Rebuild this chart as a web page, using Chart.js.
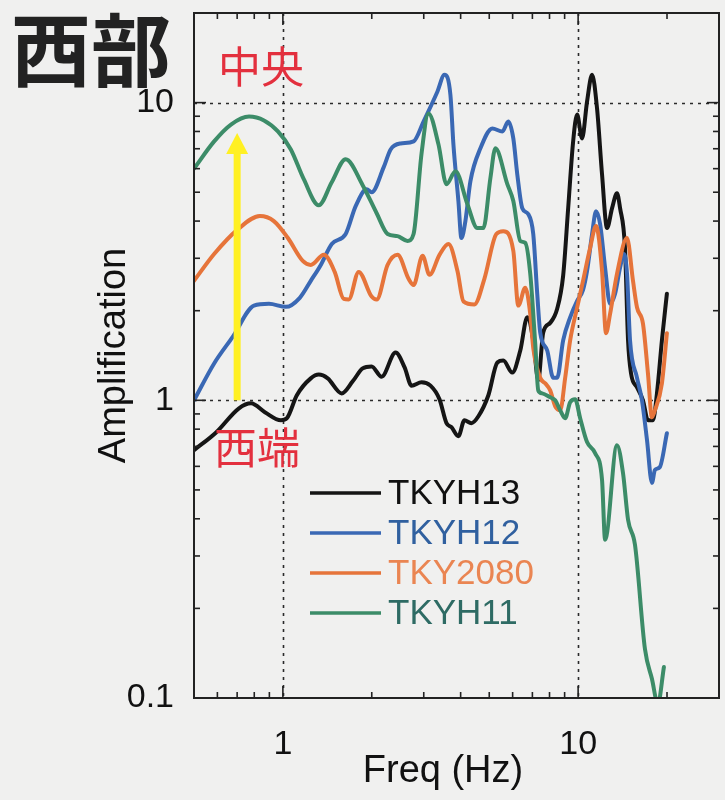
<!DOCTYPE html>
<html>
<head>
<meta charset="utf-8">
<script src="https://cdn.jsdelivr.net/npm/chart.js@4.4.1/dist/chart.umd.min.js"></script>
<style>
  html, body { margin: 0; padding: 0; background: #f0f0ef; }
  #wrap { width: 725px; height: 800px; }
</style>
</head>
<body>
<div id="wrap"><canvas id="c" width="725" height="800"></canvas></div>
<script>
// Amplification spectra, western sites (frequency in Hz, amplification ratio)
const stationNames = ['TKYH13', 'TKYH12', 'TKY2080', 'TKYH11'];

const h13Freq = [0.5,0.594,0.71,0.78,0.869,0.985,1.032,1.115,1.243,1.323,1.419,1.582,1.724,1.863,1.998,2.16,2.408,2.584,2.728,2.949,3.162,3.392,3.582,3.724,3.931,4.12,4.349,4.594,4.966,5.326,5.58,5.984,6.369,6.725,7.047,7.327,7.617,8.042,8.493,8.897,9.253,9.619,9.922,10.31,10.72,11.15,11.59,12.05,12.53,13.03,13.54,13.87,14.41,14.76,15.11,15.83,16.58,17.24,17.92,18.49,19.22,19.98];
const h13Amp  = [0.68,0.78,0.94,0.977,0.912,0.857,0.871,1.04,1.185,1.22,1.185,1.055,1.158,1.28,1.30,1.20,1.447,1.29,1.12,1.15,1.12,1.008,0.838,0.812,0.758,0.857,0.838,0.884,1.04,1.34,1.36,1.24,1.47,1.90,1.59,1.17,1.69,1.82,2.03,2.62,4.42,7.41,9.12,7.58,10.08,12.4,9.55,5.74,3.79,4.42,4.96,4.42,3.25,1.59,1.23,1.105,1.0,0.857,0.857,1.055,1.59,2.28];

const h12Freq = [0.5,0.585,0.678,0.798,0.897,1.024,1.141,1.243,1.344,1.464,1.632,1.764,1.922,1.998,2.194,2.317,2.504,2.771,2.995,3.339,3.526,3.694,3.781,3.931,4.024,4.151,4.316,4.667,5.123,5.537,5.801,6.032,6.222,6.469,6.778,7.047,7.269,7.44,7.858,8.233,8.493,8.897,9.397,9.922,10.39,10.72,11.15,11.5,11.87,12.34,12.83,13.34,13.87,14.3,14.64,14.99,15.83,16.45,17.11,17.78,18.2,18.92,19.98];
const h12Amp  = [1.0,1.33,1.64,2.08,2.11,2.06,2.21,2.52,2.85,3.35,3.62,4.49,5.12,5.0,6.06,6.96,7.29,7.41,8.64,10.9,12.4,10.6,7.24,4.67,3.51,4.0,5.44,7.02,8.19,8.0,8.64,7.58,5.74,4.42,4.22,3.62,2.28,1.69,1.47,1.19,1.19,1.59,1.90,2.16,2.35,2.72,3.62,4.32,3.91,2.79,2.11,2.28,2.79,3.10,2.66,1.59,1.19,1.0,0.735,0.528,0.583,0.597,0.775];

const k2080Freq = [0.5,0.585,0.699,0.836,0.932,1.04,1.168,1.243,1.376,1.498,1.607,1.671,1.806,1.998,2.078,2.263,2.446,2.665,2.771,2.972,3.138,3.392,3.638,3.902,4.088,4.453,4.814,5.284,5.58,6.032,6.271,6.621,6.884,7.047,7.44,7.736,8.042,8.362,8.694,9.04,9.397,9.922,10.39,10.98,11.5,12.05,12.43,12.83,13.54,14.64,15.34,15.83,16.58,17.24,17.78,18.2,19.22,19.98];
const k2080Amp  = [2.52,3.10,3.73,4.16,4.0,3.51,2.94,2.85,3.08,2.70,2.19,2.18,2.70,2.23,2.18,2.85,3.08,2.56,2.44,3.06,2.64,3.08,3.35,2.72,2.15,2.10,2.56,3.62,3.70,3.18,2.08,2.39,1.95,1.50,1.19,1.14,1.08,0.955,0.926,1.19,1.59,2.05,2.52,3.25,3.85,2.72,1.68,1.95,2.66,3.51,2.52,2.05,1.81,1.23,0.877,0.926,1.14,1.68];

const h11Freq = [0.5,0.585,0.667,0.768,0.863,0.962,1.064,1.177,1.323,1.464,1.632,1.863,2.078,2.263,2.446,2.644,2.771,2.949,3.113,3.365,3.582,3.842,4.217,4.558,4.776,5.044,5.244,5.757,6.032,6.369,6.621,6.884,7.157,7.327,7.558,8.042,8.362,8.694,9.04,9.397,9.77,10.16,10.72,11.41,12.05,12.34,13.54,14.19,14.76,15.58,16.84,17.78,18.63,19.52];
const h11Amp  = [6.0,7.41,8.44,8.98,8.71,8.0,6.96,5.53,4.52,5.40,6.45,5.28,4.25,3.62,3.56,3.43,3.62,6.75,9.2,7.24,5.32,5.88,4.56,3.79,3.79,5.57,7.02,5.32,4.67,3.43,3.38,2.66,1.55,1.08,1.055,1.023,1.0,0.926,0.871,0.985,1.008,0.871,0.724,0.665,0.54,0.34,0.707,0.57,0.397,0.327,0.146,0.116,0.0955,0.127];

// Axis ticks and labels
const xLabelValues = [1, 10];
const xLabelText   = ['1', '10'];
const yLabelValues = [0.1, 1, 10];
const yLabelText   = ['0.1', '1', '10'];
const xMajorTicks = [1, 10];
const xMinorTicks = [0.6, 0.7, 0.8, 0.9, 2, 3, 4, 5, 6, 7, 8, 9, 20];
const yMajorTicks = [1, 10];
const yMinorTicks = [0.2, 0.3, 0.4, 0.5, 0.6, 0.7, 0.8, 0.9, 2, 3, 4, 5, 6, 7, 8, 9];
const gridX = [1, 10];
const gridY = [1, 10];

// Yellow arrow: west end -> centre, at 0.7 Hz
const arrowFreq = [0.7];
const arrowAmp  = [1.0, 7.9];

const lineColors = ['#151515', '#3a68b4', '#e6743a', '#3c8c68'];
const textColors = ['#111111', '#30609f', '#ea8552', '#2e6b64'];
const FONT = '"Liberation Sans", Arial, Helvetica, sans-serif';
const CJK = '"Noto Sans CJK JP", "Noto Sans CJK SC", sans-serif';

const pts = (f, a) => f.map((v, i) => ({ x: v, y: a[i] }));
const labelFor = (vals, txt) => (v) => {
  const i = vals.findIndex(t => Math.abs(t - v) / t < 1e-6);
  return i >= 0 ? txt[i] : '';
};
// fixed axis box sizes, no extra label overhang padding
const fixBox = (w, h) => (s) => {
  if (w !== null) s.width = w;
  if (h !== null) s.height = h;
  s.paddingLeft = 0; s.paddingRight = 0; s.paddingTop = 0; s.paddingBottom = 0;
};

const decor = {
  id: 'decor',
  beforeDraw(chart) {
    const ctx = chart.ctx;
    ctx.save();
    ctx.fillStyle = '#f0f0ef';
    ctx.fillRect(0, 0, chart.width, chart.height);
    ctx.restore();
  },
  beforeDatasetsDraw(chart) {
    const { ctx, chartArea: a, scales: { x, y } } = chart;
    ctx.save();
    ctx.strokeStyle = '#2a2a2a';
    ctx.lineWidth = 1.6;
    ctx.setLineDash([3, 5]);
    gridX.forEach(v => {
      const p = Math.round(x.getPixelForValue(v)) + 0.5;
      ctx.beginPath(); ctx.moveTo(p, a.top); ctx.lineTo(p, a.bottom); ctx.stroke();
    });
    gridY.forEach(v => {
      const p = Math.round(y.getPixelForValue(v)) + 0.5;
      ctx.beginPath(); ctx.moveTo(a.left, p); ctx.lineTo(a.right, p); ctx.stroke();
    });
    ctx.restore();
  },
  afterDatasetsDraw(chart) {
    const { ctx, chartArea: a, scales: { x, y } } = chart;
    ctx.save();

    // frame
    ctx.strokeStyle = '#222';
    ctx.lineWidth = 2;
    ctx.strokeRect(a.left, a.top, a.right - a.left, a.bottom - a.top);

    // inward tick marks on all four sides
    ctx.lineWidth = 1.6;
    const tickX = (v, len) => {
      const p = x.getPixelForValue(v);
      ctx.beginPath(); ctx.moveTo(p, a.bottom); ctx.lineTo(p, a.bottom - len); ctx.stroke();
      ctx.beginPath(); ctx.moveTo(p, a.top); ctx.lineTo(p, a.top + len); ctx.stroke();
    };
    const tickY = (v, len) => {
      const p = y.getPixelForValue(v);
      ctx.beginPath(); ctx.moveTo(a.left, p); ctx.lineTo(a.left + len, p); ctx.stroke();
      ctx.beginPath(); ctx.moveTo(a.right, p); ctx.lineTo(a.right - len, p); ctx.stroke();
    };
    xMinorTicks.forEach(v => tickX(v, 6));
    xMajorTicks.forEach(v => tickX(v, 12));
    yMinorTicks.forEach(v => tickY(v, 6));
    yMajorTicks.forEach(v => tickY(v, 12));

    // yellow arrow
    const ax = x.getPixelForValue(arrowFreq[0]);
    const ay0 = y.getPixelForValue(arrowAmp[0]);
    const ay1 = y.getPixelForValue(arrowAmp[1]);
    const headLen = 21, headHalf = 11;
    ctx.fillStyle = '#fff023';
    ctx.fillRect(ax - 3.5, ay1 + headLen - 1, 7, ay0 - (ay1 + headLen - 1));
    ctx.beginPath();
    ctx.moveTo(ax, ay1);
    ctx.lineTo(ax + headHalf, ay1 + headLen);
    ctx.lineTo(ax - headHalf, ay1 + headLen);
    ctx.closePath();
    ctx.fill();

    // red site labels
    ctx.fillStyle = '#e3303e';
    ctx.textAlign = 'center';
    ctx.textBaseline = 'middle';
    ctx.font = '43px ' + CJK;
    ctx.fillText('中央', 261, 67);
    ctx.fillText('西端', 257, 448);

    // legend
    ctx.font = '35px ' + FONT;
    ctx.textAlign = 'left';
    chart.data.datasets.forEach((ds, i) => {
      const ly = 493 + i * 40;
      ctx.strokeStyle = ds.borderColor;
      ctx.lineWidth = 3.5;
      ctx.beginPath(); ctx.moveTo(310, ly); ctx.lineTo(381, ly); ctx.stroke();
      ctx.fillStyle = textColors[i];
      ctx.fillText(ds.label, 388, ly + 1);
    });

    // x-axis title
    ctx.fillStyle = '#111';
    ctx.font = '38px ' + FONT;
    ctx.textAlign = 'center';
    ctx.fillText('Freq (Hz)', 443, 772);

    // region heading
    ctx.fillStyle = '#222';
    ctx.font = 'bold 80px ' + CJK;
    ctx.textAlign = 'left';
    ctx.fillText('西部', 11, 50);
    ctx.restore();
  }
};

const series = [
  pts(h13Freq, h13Amp),
  pts(h12Freq, h12Amp),
  pts(k2080Freq, k2080Amp),
  pts(h11Freq, h11Amp)
];

new Chart(document.getElementById('c'), {
  type: 'line',
  data: {
    datasets: series.map((d, i) => ({
      label: stationNames[i],
      data: d,
      borderColor: lineColors[i],
      backgroundColor: lineColors[i],
      order: 3 - i
    }))
  },
  options: {
    responsive: false,
    animation: false,
    devicePixelRatio: 1,
    layout: { padding: { top: 13, right: 6, left: 0, bottom: 0 } },
    elements: {
      point: { radius: 0 },
      line: { borderWidth: 4, cubicInterpolationMode: 'monotone', borderJoinStyle: 'round', borderCapStyle: 'round', fill: false }
    },
    plugins: { legend: { display: false }, tooltip: { enabled: false } },
    scales: {
      x: {
        type: 'logarithmic',
        min: 0.5,
        max: 30,
        position: 'bottom',
        afterFit: fixBox(null, 102),
        grid: { display: false, drawTicks: false },
        border: { display: false },
        ticks: {
          autoSkip: false, maxRotation: 0, padding: 26,
          color: '#111', font: { family: FONT, size: 34 },
          callback: labelFor(xLabelValues, xLabelText)
        },
        title: { display: false }
      },
      y: {
        type: 'logarithmic',
        min: 0.1,
        max: 20,
        position: 'left',
        afterFit: fixBox(194, null),
        grid: { display: false, drawTicks: false },
        border: { display: false },
        ticks: {
          autoSkip: false, padding: 20,
          color: '#111', font: { family: FONT, size: 34 },
          callback: labelFor(yLabelValues, yLabelText)
        },
        title: {
          display: true, text: 'Amplification', color: '#111',
          font: { family: FONT, size: 38 }, padding: { top: 92, bottom: 0 }
        }
      }
    }
  },
  plugins: [decor]
});
</script>
</body>
</html>
